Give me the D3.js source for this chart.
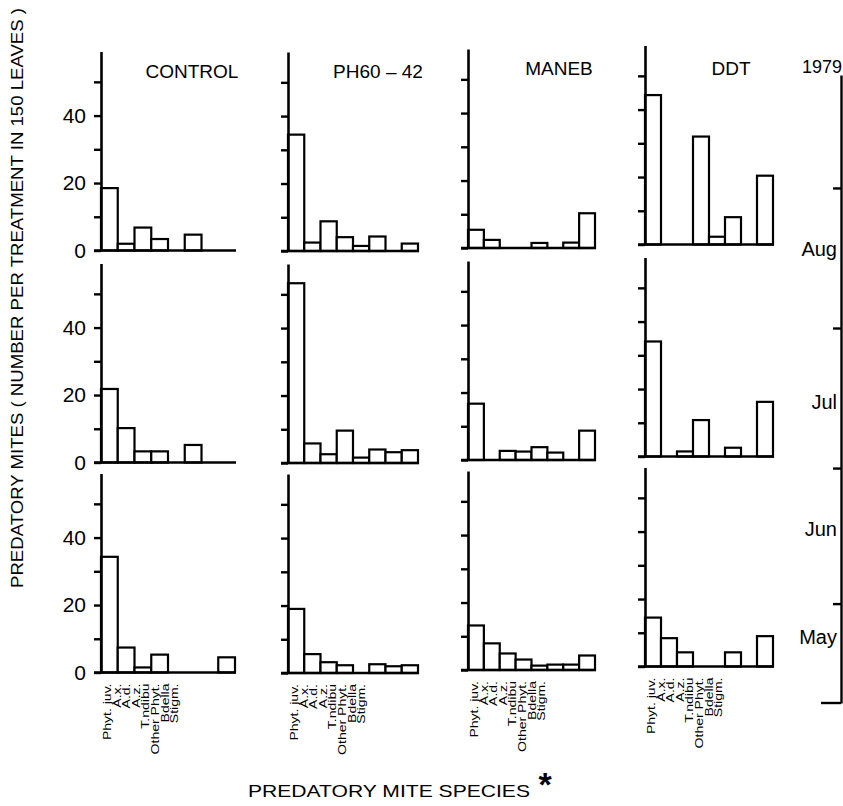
<!DOCTYPE html>
<html>
<head>
<meta charset="utf-8">
<script src="https://cdn.jsdelivr.net/npm/d3@7"></script>
<style>
  body { margin: 0; background: #fff; }
  svg { display: block; }
  text { font-family: "Liberation Sans", Arial, sans-serif; fill: #000; }
</style>
</head>
<body>
<svg id="chart" width="843" height="806"></svg>
<script>
// categories
const species = ['Phyt. juv.', 'A.x.', 'A.d.', 'A.z.', 'T.ndibu', 'Other Phyt.', 'Bdella', 'Stigm.'];
const treatments = ['CONTROL', 'PH60 \u2013 42', 'MANEB', 'DDT'];
const sampleMonths = ['Aug', 'Jul', 'May'];

// number of mites per treatment in 150 leaves
const controlAug = [18.5, 2.0, 6.8, 3.4, 0, 4.7, 0, 0];
const ph60Aug    = [34.5, 2.5, 8.8, 4.1, 1.5, 4.3, 0, 2.2];
const manebAug   = [5.4, 2.4, 0, 0, 1.5, 0, 1.6, 10.3];
const ddtAug     = [44.3, 0, 0, 32.0, 2.3, 8.1, 0, 20.4];

const controlJul = [21.8, 10.2, 3.3, 3.3, 0, 5.2, 0, 0];
const ph60Jul    = [53.3, 5.8, 2.6, 9.6, 1.6, 4.0, 3.2, 3.8];
const manebJul   = [16.7, 0, 2.7, 2.5, 3.8, 2.2, 0, 8.7];
const ddtJul     = [34.1, 0, 1.5, 10.8, 0, 2.6, 0, 16.2];

const controlMay = [34.3, 7.4, 1.5, 5.3, 0, 0, 0, 4.5];
const ph60May    = [19.0, 5.6, 3.2, 2.3, 0, 2.6, 2.0, 2.3];
const manebMay   = [13.2, 7.9, 4.9, 3.1, 1.3, 1.6, 1.6, 4.3];
const ddtMay     = [14.5, 8.4, 4.2, 0, 0, 4.2, 0, 9.0];

// tick values
const yTicks = [0, 10, 20, 30, 40, 50];
const yTickLabels = [0, 20, 40];
const yMax = 59;

// season axis on the right
const yearLabel = '1979';
const seasonStart = new Date(1979, 4, 10);
const seasonEnd = new Date(1979, 8, 26);
const monthNames = ['Aug', 'Jul', 'Jun', 'May'];
const monthLabelDates = [new Date(1979, 7, 17), new Date(1979, 6, 14), new Date(1979, 5, 16), new Date(1979, 4, 23)];

const panelRows = [
  [controlAug, ph60Aug, manebAug, ddtAug],
  [controlJul, ph60Jul, manebJul, ddtJul],
  [controlMay, ph60May, manebMay, ddtMay]
];

// layout
const colX = [101, 288, 468, 645];
const colW = [134, 130, 127, 128];
const colDy = [0, 0.5, -2.5, -6];
const rowZero = [250.5, 462.5, 672.5];
const axisH = 199;
const titleX = [192, 378, 559, 731];
const titleY = [78, 78, 75, 75];

const svg = d3.select('#chart');
svg.append('rect').attr('width', 843).attr('height', 806).attr('fill', '#fff');

panelRows.forEach((row, r) => {
  row.forEach((vals, c) => {
    const x0 = colX[c];
    const zero = rowZero[r] + colDy[c];
    const y = d3.scaleLinear().domain([0, yMax]).range([zero, zero - axisH]);
    const x = d3.scaleBand().domain(species).range([x0, x0 + colW[c]]).padding(0);
    const g = svg.append('g');

    // bars
    g.selectAll('rect.bar')
      .data(species.map((s, i) => ({s, v: vals[i]})).filter(d => d.v > 0))
      .enter().append('rect')
      .attr('class', 'bar')
      .attr('x', d => x(d.s))
      .attr('y', d => y(d.v))
      .attr('width', x.bandwidth())
      .attr('height', d => y(0) - y(d.v))
      .attr('fill', '#fff')
      .attr('stroke', '#000')
      .attr('stroke-width', 2.2);

    // baseline
    g.append('line')
      .attr('x1', x0 - 7).attr('x2', x0 + colW[c] + 1)
      .attr('y1', y(0)).attr('y2', y(0))
      .attr('stroke', '#000').attr('stroke-width', 2.6);

    // y axis
    const ax = g.append('g')
      .attr('transform', `translate(${x0},0)`)
      .call(d3.axisLeft(y).tickValues(yTicks).tickSize(7).tickSizeOuter(0).tickPadding(8)
        .tickFormat(d => (c === 0 && yTickLabels.includes(d)) ? d : ''));
    ax.select('.domain').attr('stroke', '#000').attr('stroke-width', 2.6);
    ax.selectAll('.tick line').attr('stroke', '#000').attr('stroke-width', 2.4);
    ax.selectAll('.tick text').attr('font-size', 21).attr('fill', '#000')
      .style('font-family', '"Liberation Sans", Arial, sans-serif');

    // panel title
    if (r === 0) {
      svg.append('text')
        .attr('x', titleX[c]).attr('y', titleY[c])
        .attr('text-anchor', 'middle')
        .attr('font-size', 19)
        .text(treatments[c]);
    }

    // species labels under the bottom row
    if (r === panelRows.length - 1) {
      const lx = d3.scalePoint().domain(species).range([x0 + 10, x0 + 10 + 7 * 9.6]);
      svg.append('g').selectAll('text')
        .data(species)
        .enter().append('text')
        .attr('transform', d => `translate(${lx(d)},${zero + 11}) rotate(-90) scale(1.22,1)`)
        .attr('text-anchor', 'end')
        .attr('font-size', 11.5)
        .text(d => d);
    }
  });
});

// right-hand season axis
const t = d3.scaleTime().domain([seasonStart, seasonEnd]).range([703, 75]);
const rax = svg.append('g')
  .attr('transform', 'translate(841,0)')
  .call(d3.axisLeft(t).ticks(d3.timeMonth.every(1)).tickFormat('').tickSize(8).tickSizeOuter(0));
rax.select('.domain').attr('stroke', '#000').attr('stroke-width', 2.4);
rax.selectAll('.tick line').attr('stroke', '#000').attr('stroke-width', 2.4);
svg.append('line')
  .attr('x1', 821).attr('x2', 841)
  .attr('y1', t(seasonStart)).attr('y2', t(seasonStart))
  .attr('stroke', '#000').attr('stroke-width', 2.4);

svg.append('g').selectAll('text')
  .data(monthNames)
  .enter().append('text')
  .attr('x', 837)
  .attr('y', (d, i) => t(monthLabelDates[i]))
  .attr('text-anchor', 'end')
  .attr('font-size', 20)
  .text(d => d);

svg.append('text')
  .attr('x', 802).attr('y', 73)
  .attr('font-size', 18)
  .text(yearLabel);

// axis titles
svg.append('text')
  .attr('transform', 'translate(23,298) rotate(-90)')
  .attr('text-anchor', 'middle')
  .attr('font-size', 17)
  .attr('textLength', 580)
  .attr('lengthAdjust', 'spacingAndGlyphs')
  .text('PREDATORY MITES ( NUMBER PER TREATMENT IN 150 LEAVES )');

svg.append('text')
  .attr('x', 248).attr('y', 797)
  .attr('font-size', 17)
  .attr('textLength', 282)
  .attr('lengthAdjust', 'spacingAndGlyphs')
  .text('PREDATORY MITE SPECIES');

svg.append('text')
  .attr('x', 545).attr('y', 796)
  .attr('text-anchor', 'middle')
  .attr('font-size', 34)
  .attr('font-weight', 'bold')
  .text('*');
</script>
</body>
</html>
